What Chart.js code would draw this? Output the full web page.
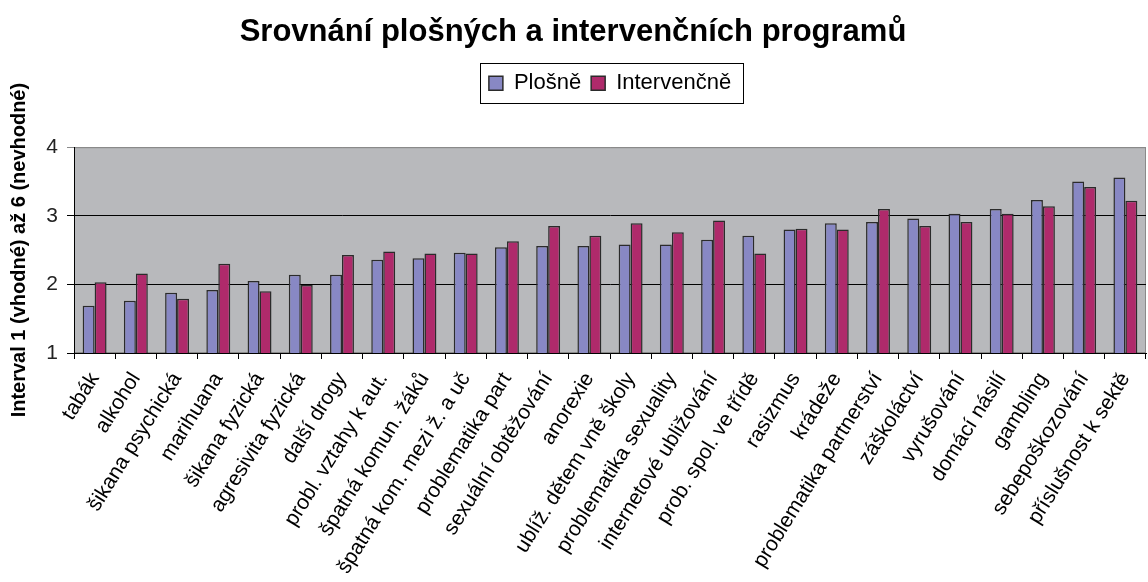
<!DOCTYPE html>
<html>
<head>
<meta charset="utf-8">
<script src="https://cdn.jsdelivr.net/npm/chart.js@4.4.1/dist/chart.umd.min.js"></script>
<style>
  html, body { margin: 0; padding: 0; background: #fff; }
  #wrap { width: 1148px; height: 582px; position: relative; }
</style>
</head>
<body>
<div id="wrap"><canvas id="c"></canvas></div>
<script>
const chartTitle = 'Srovnání plošných a intervenčních programů';
const yAxisTitle = 'Interval 1 (vhodné) až 6 (nevhodné)';
const seriesNames = ['Plošně', 'Intervenčně'];
const categories = [
  'tabák', 'alkohol', 'šikana psychická', 'marihuana', 'šikana fyzická',
  'agresivita fyzická', 'další drogy', 'probl. vztahy k aut.', 'špatná komun. žáků',
  'špatná kom. mezi ž. a uč', 'problematika part', 'sexuální obtěžování', 'anorexie',
  'ublíž. dětem vně školy', 'problematika sexuality', 'internetové ubližování',
  'prob. spol. ve třídě', 'rasizmus', 'krádeže', 'problematika partnerství',
  'záškoláctví', 'vyrušování', 'domácí násilí', 'gambling', 'sebepoškozování',
  'příslušnost k sektě'
];
const plosne = [1.69, 1.76, 1.88, 1.92, 2.05, 2.14, 2.14, 2.36, 2.38, 2.46, 2.54, 2.56, 2.56,
                2.58, 2.58, 2.65, 2.71, 2.80, 2.89, 2.91, 2.96, 3.03, 3.10, 3.23, 3.50, 3.56];
const intervencne = [2.03, 2.16, 1.79, 2.30, 1.90, 1.99, 2.43, 2.48, 2.45, 2.45, 2.63, 2.85, 2.71,
                     2.89, 2.76, 2.93, 2.45, 2.81, 2.80, 3.10, 2.85, 2.91, 3.03, 3.14, 3.42, 3.22];
const yMin = 1, yMax = 4, yStep = 1;

const FONT = "'Liberation Sans', Arial, sans-serif";

const plotBg = {
  id: 'plotBg',
  beforeDraw(chart) {
    const {ctx, chartArea: a} = chart;
    ctx.save();
    ctx.fillStyle = '#B8B9BC';
    ctx.fillRect(a.left, a.top, a.right - a.left, a.bottom - a.top);
    ctx.strokeStyle = '#8a8a8a';
    ctx.lineWidth = 1;
    ctx.strokeRect(a.left + 0.5, a.top + 0.5, a.right - a.left - 1, a.bottom - a.top - 1);
    ctx.restore();
  }
};

const legendBox = {
  id: 'legendBox',
  afterDraw(chart) {
    const lg = chart.legend;
    if (!lg || !lg.legendHitBoxes || !lg.legendHitBoxes.length) return;
    const hb = lg.legendHitBoxes;
    const first = hb[0], last = hb[hb.length - 1];
    const cy = first.top + first.height / 2;
    const x0 = first.left - 9, x1 = last.left + last.width + 12;
    const y0 = cy - 20, y1 = cy + 20;
    const ctx = chart.ctx;
    ctx.save();
    ctx.strokeStyle = '#000';
    ctx.lineWidth = 1;
    ctx.strokeRect(Math.round(x0) + 0.5, Math.round(y0) + 0.5, Math.round(x1 - x0), Math.round(y1 - y0));
    ctx.restore();
  }
};

new Chart(document.getElementById('c'), {
  type: 'bar',
  data: {
    labels: categories,
    datasets: [
      { label: seriesNames[0], data: plosne, backgroundColor: '#8888C4', borderColor: '#2b2b2b', borderWidth: 1.5 },
      { label: seriesNames[1], data: intervencne, backgroundColor: '#AF2A6B', borderColor: '#2b2b2b', borderWidth: 1.5 }
    ]
  },
  options: {
    responsive: true,
    maintainAspectRatio: false,
    animation: false,
    layout: { padding: { left: 0, right: 2, top: 0, bottom: 0 } },
    datasets: { bar: { categoryPercentage: 0.58, barPercentage: 1.0 } },
    plugins: {
      title: {
        display: true, text: chartTitle, color: '#000',
        font: { family: FONT, size: 31, weight: 'bold' },
        padding: { top: 14, bottom: 11 }
      },
      subtitle: {
        display: true, text: '', weight: 500, fullSize: false,
        font: { family: FONT, size: 10 },
        padding: { top: 0, bottom: 31 }
      },
      legend: {
        display: true, position: 'top', fullSize: false,
        labels: {
          color: '#000', boxWidth: 14, boxHeight: 14, padding: 10,
          font: { family: FONT, size: 22 }
        }
      },
      tooltip: { enabled: false }
    },
    scales: {
      x: {
        offset: true,
        grid: { display: true, drawOnChartArea: false, drawTicks: true, tickLength: 6, color: '#000', offset: true },
        border: { display: true, color: '#000', width: 1 },
        ticks: {
          minRotation: 58, maxRotation: 58, autoSkip: false, color: '#000', padding: 9,
          font: { family: FONT, size: 21 }
        },
        afterFit(scale) { scale.height = 229; scale.paddingLeft = 0; scale.paddingRight = 0; }
      },
      y: {
        min: yMin, max: yMax,
        grid: {
          drawTicks: true, tickLength: 7,
          color: (c) => (c.tick && c.tick.value === yMax) ? '#8a8a8a' : '#000'
        },
        border: { display: true, color: '#000', width: 1 },
        ticks: {
          stepSize: yStep, color: '#222', padding: 9,
          font: { family: FONT, size: 21 }
        },
        title: {
          display: true, text: yAxisTitle, color: '#000',
          font: { family: FONT, size: 20, weight: 'bold' },
          padding: { top: 7, bottom: 0 }
        },
        afterFit(scale) { scale.width = 74; }
      }
    }
  },
  plugins: [plotBg, legendBox]
});
</script>
</body>
</html>
